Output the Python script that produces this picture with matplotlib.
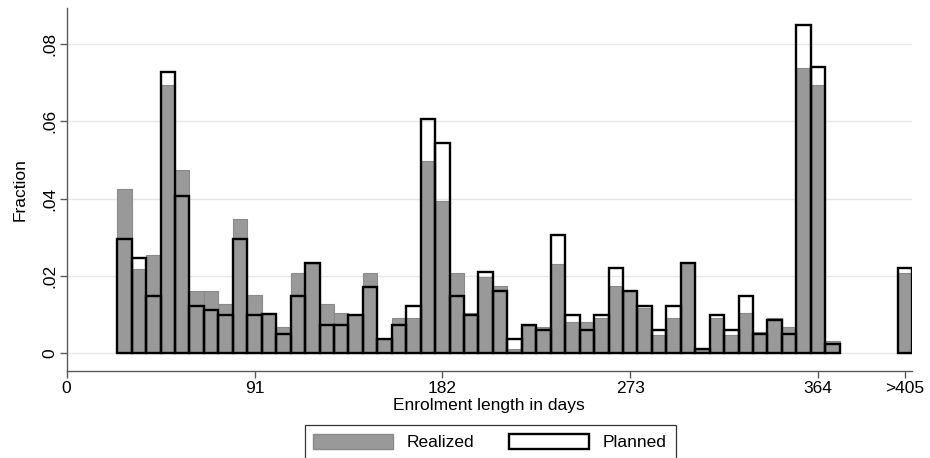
import numpy as np
import matplotlib
matplotlib.use("Agg")
import matplotlib.pyplot as plt
from matplotlib.patches import Patch

plt.rcParams['font.family'] = ['Liberation Sans', 'DejaVu Sans']

# histogram bins: 7-day wide, first edge at 24.5 days
bin_start = 24.5
bin_width = 7.0

# share of enrolments per bin (50 bins from 24.5 to 374.5 days)
realized = [0.0426, 0.0219, 0.0253, 0.0693, 0.0473, 0.0161, 0.0161, 0.0127, 0.0346, 0.0150,
            0.0103, 0.0069, 0.0207, 0.0232, 0.0127, 0.0103, 0.0100, 0.0207, 0.0036, 0.0092,
            0.0092, 0.0497, 0.0394, 0.0207, 0.0103, 0.0196, 0.0174, 0.0011, 0.0071, 0.0069,
            0.0230, 0.0081, 0.0081, 0.0092, 0.0174, 0.0161, 0.0116, 0.0047, 0.0092, 0.0234,
            0.0012, 0.0092, 0.0047, 0.0103, 0.0056, 0.0092, 0.0069, 0.0738, 0.0693, 0.0033]
planned = [0.0295, 0.0247, 0.0149, 0.0728, 0.0406, 0.0123, 0.0111, 0.0098, 0.0295, 0.0098,
           0.0101, 0.0049, 0.0149, 0.0234, 0.0073, 0.0073, 0.0098, 0.0172, 0.0036, 0.0073,
           0.0123, 0.0605, 0.0543, 0.0149, 0.0098, 0.0209, 0.0161, 0.0036, 0.0073, 0.0060,
           0.0307, 0.0098, 0.0060, 0.0098, 0.0221, 0.0161, 0.0123, 0.0060, 0.0123, 0.0234,
           0.0011, 0.0098, 0.0060, 0.0149, 0.0049, 0.0086, 0.0049, 0.0850, 0.0741, 0.0023]

# open-ended top category
over_pos = 406
over_realized = 0.0208
over_planned = 0.0221

xticks = [0, 91, 182, 273, 364, 406]
xticklabels = ['0', '91', '182', '273', '364', '>405']
yticks = [0, 0.02, 0.04, 0.06, 0.08]
yticklabels = ['0', '.02', '.04', '.06', '.08']

fs = 12.5

fig = plt.figure(figsize=(9.3, 4.58), dpi=100)
ax = fig.add_axes([0.0717, 0.19, 0.9089, 0.7919])

n = len(realized)
left = bin_start + bin_width * np.arange(n)
lefts = np.append(left, over_pos - bin_width / 2)
real = np.append(realized, over_realized)
plan = np.append(planned, over_planned)

gray = '#999999'
ax.bar(lefts, real, width=bin_width, align='edge', color=gray,
       edgecolor='#8a8a8a', linewidth=0.8, zorder=2)
ax.bar(lefts, plan, width=bin_width, align='edge', fill=False,
       edgecolor='black', linewidth=1.7, zorder=3)

ax.set_xlim(0, 409.5)
ax.set_ylim(-0.00457, 0.0892)
ax.set_xticks(xticks)
ax.set_xticklabels(xticklabels, fontsize=fs)
ax.set_yticks(yticks)
ax.set_yticklabels(yticklabels, fontsize=fs, rotation=90, va='center')
ax.yaxis.grid(True, color='#e6e6e6', linewidth=1.0, zorder=0)
ax.set_axisbelow(True)

for s in ['top', 'right']:
    ax.spines[s].set_visible(False)
for s in ['left', 'bottom']:
    ax.spines[s].set_color('#5a5a5a')
    ax.spines[s].set_linewidth(1.0)
ax.tick_params(axis='both', direction='out', length=5, color='#5a5a5a', width=1.0, pad=2)

ax.set_xlabel('Enrolment length in days', fontsize=fs, labelpad=2)
ax.set_ylabel('Fraction', fontsize=fs, labelpad=10)

handles = [Patch(facecolor=gray, edgecolor='#8a8a8a', label='Realized'),
           Patch(facecolor='white', edgecolor='black', linewidth=1.7, label='Planned')]
leg = fig.legend(handles=handles, loc='upper center', bbox_to_anchor=(0.527, 0.072),
                 ncol=2, fontsize=fs, frameon=True, fancybox=False,
                 handlelength=4.6, handleheight=0.95, handletextpad=0.8,
                 columnspacing=2.0, borderpad=0.5, borderaxespad=0)
leg.get_frame().set_edgecolor('black')
leg.get_frame().set_linewidth(0.9)

fig.savefig('out.png', dpi=100)
